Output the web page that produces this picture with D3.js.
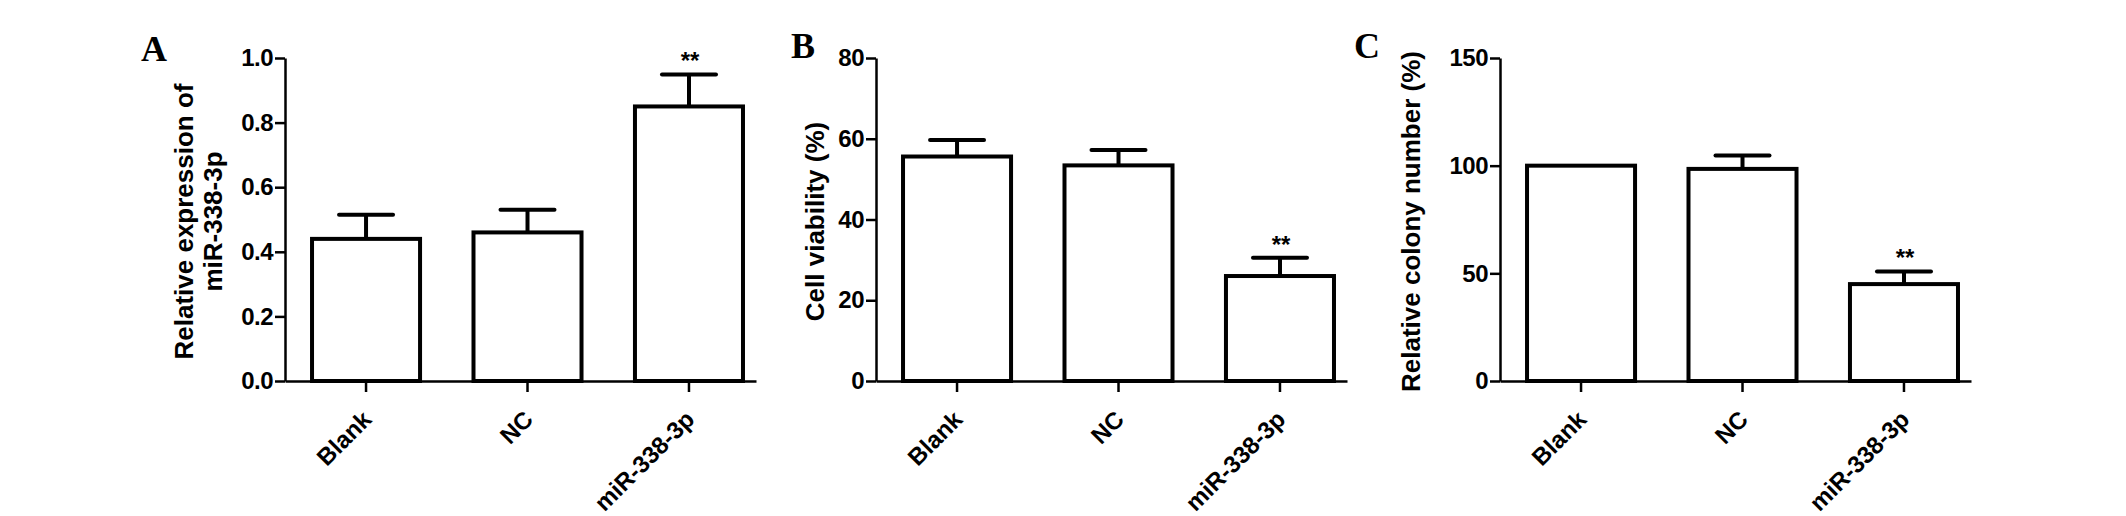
<!DOCTYPE html>
<html>
<head>
<meta charset="utf-8">
<script src="https://cdn.jsdelivr.net/npm/d3@7"></script>
<style>
  body { margin: 0; background: #fff; }
  svg { display: block; }
  .tick text, .lbl { font-family: "Liberation Sans", Arial, sans-serif; font-weight: bold; fill: #000; }
</style>
</head>
<body>
<div id="chart"></div>
<script>
// categories shared by the three panels
const categories = ["Blank", "NC", "miR-338-3p"];
const stars = ["", "", "**"];

// panel A: relative expression of miR-338-3p
const expressionMean = [0.44, 0.46, 0.85];
const expressionSem = [0.075, 0.07, 0.099];
const expressionTicks = [0, 0.2, 0.4, 0.6, 0.8, 1.0];

// panel B: cell viability (%)
const viabilityMean = [55.6, 53.4, 26.0];
const viabilitySem = [4.1, 3.8, 4.5];
const viabilityTicks = [0, 20, 40, 60, 80];

// panel C: relative colony number (%)
const colonyMean = [100, 98.5, 45.0];
const colonySem = [0, 6.2, 5.9];
const colonyTicks = [0, 50, 100, 150];

const W = 2126, H = 516;
const svg = d3.select("#chart").append("svg").attr("width", W).attr("height", H);

const panels = [
    { letter: "A", lx: 141, ly: 61, x0: 285, mean: expressionMean, sem: expressionSem,
      ticks: expressionTicks, fmt: d3.format(".1f"),
      title: ["Relative expression of", "miR-338-3p"], tx: [193, 222] },
    { letter: "B", lx: 791, ly: 58, x0: 876, mean: viabilityMean, sem: viabilitySem,
      ticks: viabilityTicks, fmt: d3.format("d"),
      title: ["Cell viability (%)"], tx: [824] },
    { letter: "C", lx: 1354, ly: 58, x0: 1500, mean: colonyMean, sem: colonySem,
      ticks: colonyTicks, fmt: d3.format("d"),
      title: ["Relative colony number (%)"], tx: [1420] }
];

const plotTop = 58, plotBottom = 381, plotW = 471;

panels.forEach(p => {
    let g = svg.append("g");

    let x = d3.scaleBand()
        .domain(categories)
        .range([p.x0, p.x0 + plotW])
        .paddingInner(0.331)
        .paddingOuter(0.124)
        .align(0.675);

    let y = d3.scaleLinear()
        .domain([0, d3.max(p.ticks)])
        .range([plotBottom, plotTop]);

    // bars
    g.selectAll(".bar")
     .data(categories)
     .enter()
     .append("rect")
     .attr("class", "bar")
     .attr("x", d => x(d))
     .attr("width", x.bandwidth())
     .attr("y", (d, i) => y(p.mean[i]))
     .attr("height", (d, i) => plotBottom - y(p.mean[i]))
     .attr("fill", "#fff")
     .attr("stroke", "#000")
     .attr("stroke-width", 4);

    // upper error bars with caps
    categories.forEach((c, i) => {
        if (!p.sem[i]) return;
        let cx = x(c) + x.bandwidth() / 2;
        let y1 = y(p.mean[i]), y2 = y(p.mean[i] + p.sem[i]);
        g.append("line").attr("x1", cx).attr("x2", cx).attr("y1", y1).attr("y2", y2)
         .attr("stroke", "#000").attr("stroke-width", 4);
        g.append("line").attr("x1", cx - 27).attr("x2", cx + 27).attr("y1", y2).attr("y2", y2)
         .attr("stroke", "#000").attr("stroke-width", 4).attr("stroke-linecap", "round");
        if (stars[i]) {
            g.append("text").attr("class", "lbl")
             .attr("x", cx + 1).attr("y", y2 - 5)
             .attr("text-anchor", "middle")
             .style("font-size", "24px")
             .text(stars[i]);
        }
    });

    // y axis
    let ya = g.append("g")
        .attr("transform", `translate(${p.x0},0)`)
        .call(d3.axisLeft(y).tickValues(p.ticks).tickFormat(p.fmt).tickSize(10).tickSizeOuter(0).tickPadding(2));

    // x axis
    let xa = g.append("g")
        .attr("transform", `translate(0,${plotBottom})`)
        .call(d3.axisBottom(x).tickSize(11).tickSizeOuter(0));

    [ya, xa].forEach(a => {
        a.select(".domain").attr("stroke", "#000").attr("stroke-width", 2.5);
        a.selectAll(".tick line").attr("stroke", "#000").attr("stroke-width", 2.5);
    });
    ya.selectAll(".tick text").style("font-size", "24px").attr("letter-spacing", "-0.5px");

    xa.selectAll(".tick text")
      .style("font-size", "24px")
      .attr("text-anchor", "end")
      .attr("dy", null)
      .attr("y", 0)
      .attr("transform", "translate(7,40) rotate(-45)");

    // y title
    p.title.forEach((t, k) => {
        g.append("text").attr("class", "lbl")
         .attr("transform", `translate(${p.tx[k]},${(plotTop + plotBottom) / 2 + 2}) rotate(-90)`)
         .attr("text-anchor", "middle")
         .style("font-size", "26px")
         .text(t);
    });

    // panel letter
    g.append("text")
     .attr("x", p.lx).attr("y", p.ly)
     .style("font-family", "'Liberation Serif', 'Times New Roman', serif")
     .style("font-weight", "bold")
     .style("font-size", "36px")
     .text(p.letter);
});
</script>
</body>
</html>
